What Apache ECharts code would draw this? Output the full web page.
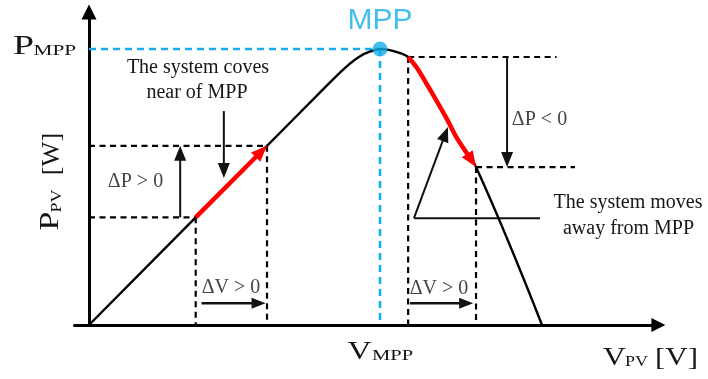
<!DOCTYPE html>
<html>
<head>
<meta charset="utf-8">
<script src="https://cdn.jsdelivr.net/npm/echarts@6/dist/echarts.min.js"></script>
<style>
  html, body { margin: 0; padding: 0; background: #fff; }
  #chart { width: 708px; height: 379px; }
</style>
</head>
<body>
<div id="chart"></div>
<script>
// P–V characteristic of the panel (voltage in V, power in W)
const pvVoltage = [0, 11.0, 18.35, 23.8, 25.9, 26.9, 27.9, 29.0, 30.0, 31.0, 32.0, 32.9, 33.8, 34.8, 35.85, 36.9, 37.9, 39.9, 46.7];
const pvPower   = [0, 39.0, 64.9, 84.2, 91.5, 94.7, 97.3, 99.1, 100, 99.6, 98.6, 97.1, 93.2, 87.4, 81.1, 74.6, 67.9, 57.2, 0];

// maximum power point
const mppVoltage = 30;
const mppPower = 100;

// perturbation steps, as [from, to] indices into the curve
const stepBelowMpp = [1, 2];    // dV > 0 gives dP > 0
const stepAboveMpp = [11, 17];  // dV > 0 gives dP < 0

// where the annotation arrows sit (V, W)
const dPArrowVoltage = [9.4, 43.1];
const dVArrowPower = 7.9;
const dVArrowSpan = [[11.6, 18.2], [33.1, 39.6]];
const dashEndVoltage = [48.2, 50.1];
const calloutNear = [13.9, 77.5, 13.9, 53.3];
const calloutAwayLeader = [46.5, 38.7, 33.5, 38.7];
const calloutAway = [33.5, 38.7, 37.0, 71.7];

const CYAN = '#14aee8';
const RED = '#ff0000';
const SERIF = '"Liberation Serif", "Times New Roman", serif';

const pt = i => [pvVoltage[i], pvPower[i]];
const [b0, b1] = stepBelowMpp;
const [a0, a1] = stepAboveMpp;

// dashed guide segments [v0, p0, v1, p1]
const blackGuides = [
  [0, pvPower[b0], pvVoltage[b0], pvPower[b0]],
  [0, pvPower[b1], pvVoltage[b1], pvPower[b1]],
  [pvVoltage[b0], pvPower[b0], pvVoltage[b0], 0],
  [pvVoltage[b1], pvPower[b1], pvVoltage[b1], 0],
  [pvVoltage[a0], pvPower[a0], dashEndVoltage[0], pvPower[a0]],
  [pvVoltage[a1], pvPower[a1], dashEndVoltage[1], pvPower[a1]],
  [pvVoltage[a0], pvPower[a0], pvVoltage[a0], 0],
  [pvVoltage[a1], pvPower[a1], pvVoltage[a1], 0]
];
const mppGuides = [
  [0, mppPower, mppVoltage, mppPower],
  [mppVoltage, mppPower, mppVoltage, 0]
];

const blackArrows = [
  [dPArrowVoltage[0], pvPower[b0], dPArrowVoltage[0], pvPower[b1]],
  [dPArrowVoltage[1], pvPower[a0], dPArrowVoltage[1], pvPower[a1]],
  calloutNear,
  calloutAway
];
const dVArrows = dVArrowSpan.map(s => [s[0], dVArrowPower, s[1], dVArrowPower]);

function segmentSeries(name, segs, color, width, dash, z) {
  return {
    name, type: 'custom', z, silent: true,
    encode: { x: [0, 2], y: [1, 3] },
    data: segs,
    renderItem(params, api) {
      const a = api.coord([api.value(0), api.value(1)]);
      const b = api.coord([api.value(2), api.value(3)]);
      return {
        type: 'line',
        shape: { x1: a[0], y1: a[1], x2: b[0], y2: b[1] },
        style: { stroke: color, lineWidth: width, lineDash: dash || null, fill: null }
      };
    }
  };
}

function headPoints(tip, ux, uy, len, w) {
  const bx = tip[0] - ux * len, by = tip[1] - uy * len;
  return [[tip[0], tip[1]], [bx - uy * w / 2, by + ux * w / 2], [bx + uy * w / 2, by - ux * w / 2]];
}

function arrowSeries(name, segs, color, width, headLen, headW, z) {
  return {
    name, type: 'custom', z, silent: true,
    encode: { x: [0, 2], y: [1, 3] },
    data: segs,
    renderItem(params, api) {
      const a = api.coord([api.value(0), api.value(1)]);
      const b = api.coord([api.value(2), api.value(3)]);
      const dx = b[0] - a[0], dy = b[1] - a[1];
      const L = Math.hypot(dx, dy), ux = dx / L, uy = dy / L;
      const ex = b[0] - ux * (headLen - 1), ey = b[1] - uy * (headLen - 1);
      return {
        type: 'group',
        children: [
          { type: 'line', shape: { x1: a[0], y1: a[1], x2: ex, y2: ey },
            style: { stroke: color, lineWidth: width } },
          { type: 'polygon', shape: { points: headPoints(b, ux, uy, headLen, headW) },
            style: { fill: color } }
        ]
      };
    }
  };
}

// red stretch of the curve, ending in an arrowhead
function redPathSeries(name, from, to, headLen, headW, z) {
  const idx = [];
  for (let i = from; i <= to; i++) idx.push(i);
  return {
    name, type: 'custom', z, silent: true,
    encode: { x: 0, y: 1 },
    data: [pt(from)],
    renderItem(params, api) {
      const pts = idx.map(i => api.coord(pt(i)));
      const tip = pts[pts.length - 1];
      const prev = pts[pts.length - 2];
      const dx = tip[0] - prev[0], dy = tip[1] - prev[1];
      const L = Math.hypot(dx, dy), ux = dx / L, uy = dy / L;
      const body = pts.slice(0, -1).concat([[tip[0] - ux * (headLen - 2), tip[1] - uy * (headLen - 2)]]);
      return {
        type: 'group',
        children: [
          { type: 'polyline', shape: { points: body, smooth: 0.3 },
            style: { stroke: RED, lineWidth: 4.5, fill: null } },
          { type: 'polygon', shape: { points: headPoints(tip, ux, uy, headLen, headW) },
            style: { fill: RED } }
        ]
      };
    }
  };
}

function txt(x, y, text, size, opt) {
  opt = opt || {};
  return {
    type: 'text', x, y,
    scaleX: opt.sx || 1,
    rotation: opt.rot || 0,
    silent: true,
    style: {
      text,
      font: size + 'px ' + (opt.family || SERIF),
      fill: opt.color || '#161616',
      align: opt.align || 'center',
      verticalAlign: 'middle'
    }
  };
}

const chart = echarts.init(document.getElementById('chart'), null, { renderer: 'canvas' });

chart.setOption({
  animation: false,
  backgroundColor: '#fff',
  grid: { left: 74.45, right: 49.6, top: 12.0, bottom: 54, containLabel: false, outerBoundsMode: 'none' },
  xAxis: {
    type: 'value', min: -1.5, max: 58.7,
    axisLine: { show: true, onZero: true, symbol: ['none', 'triangle'], symbolSize: [14, 14],
      lineStyle: { color: '#000', width: 3 } },
    axisTick: { show: false }, axisLabel: { show: false }, splitLine: { show: false }
  },
  yAxis: {
    type: 'value', min: 0, max: 113.4,
    axisLine: { show: true, onZero: true, symbol: ['none', 'triangle'], symbolSize: [15, 15],
      lineStyle: { color: '#000', width: 3 } },
    axisTick: { show: false }, axisLabel: { show: false }, splitLine: { show: false }
  },
  series: [
    segmentSeries('guides', blackGuides, '#000', 2.2, [6, 4.5], 2),
    segmentSeries('mpp guides', mppGuides, CYAN, 2.6, [7, 5], 2),
    {
      name: 'P-V curve', type: 'line', z: 3, silent: true,
      data: pvVoltage.map((v, i) => [v, pvPower[i]]),
      smooth: 0.4, showSymbol: false, symbol: 'none',
      lineStyle: { color: '#000', width: 2.4 }
    },
    redPathSeries('step below MPP', b0, b1, 16, 13, 4),
    redPathSeries('step above MPP', a0, a1, 16, 13, 4),
    arrowSeries('dP arrows', blackArrows, '#111', 2, 15, 12, 5),
    arrowSeries('dV arrows', dVArrows, '#111', 2.5, 14, 11, 5),
    segmentSeries('leader', [calloutAwayLeader], '#111', 2, null, 5),
    {
      name: 'MPP', type: 'scatter', z: 6, silent: true,
      data: [[mppVoltage, mppPower]],
      symbol: 'circle', symbolSize: 15,
      itemStyle: { color: CYAN },
      label: {
        show: true, position: 'inside', offset: [0, -28], formatter: 'MPP',
        fontFamily: '"Liberation Sans", Arial, sans-serif', fontSize: 30, color: CYAN
      }
    }
  ],
  graphic: [
    txt(13, 47, 'P', 27, { align: 'left', sx: 1.4 }),
    txt(33.5, 51, 'MPP', 15, { align: 'left', sx: 1.42 }),
    txt(347.5, 352, 'V', 25, { align: 'left', sx: 1.33 }),
    txt(372, 356, 'MPP', 15, { align: 'left', sx: 1.37 }),
    txt(603, 358.5, 'V', 25, { align: 'left', sx: 1.26 }),
    txt(625, 362, 'PV', 15, { align: 'left', sx: 1.2 }),
    txt(655, 358.5, '[V]', 25, { align: 'left', sx: 1.24 }),
    txt(51, 221, 'P', 27, { sx: 1.25, rot: Math.PI / 2 }),
    txt(57.5, 201, 'PV', 15, { sx: 1.2, rot: Math.PI / 2 }),
    txt(52.5, 154, '[W]', 25, { sx: 1.05, rot: Math.PI / 2 }),
    txt(198, 68, 'The system coves', 20),
    txt(197, 93, 'near of MPP', 20),
    txt(628, 202.5, 'The system moves', 20),
    txt(628.5, 229, 'away from MPP', 20),
    txt(135.5, 181.5, 'ΔP > 0', 20, { color: '#444' }),
    txt(231, 288, 'ΔV > 0', 20, { color: '#444' }),
    txt(439, 289, 'ΔV > 0', 20, { color: '#444' }),
    txt(539.5, 120, 'ΔP < 0', 20, { color: '#444' })
  ]
});
</script>
</body>
</html>
